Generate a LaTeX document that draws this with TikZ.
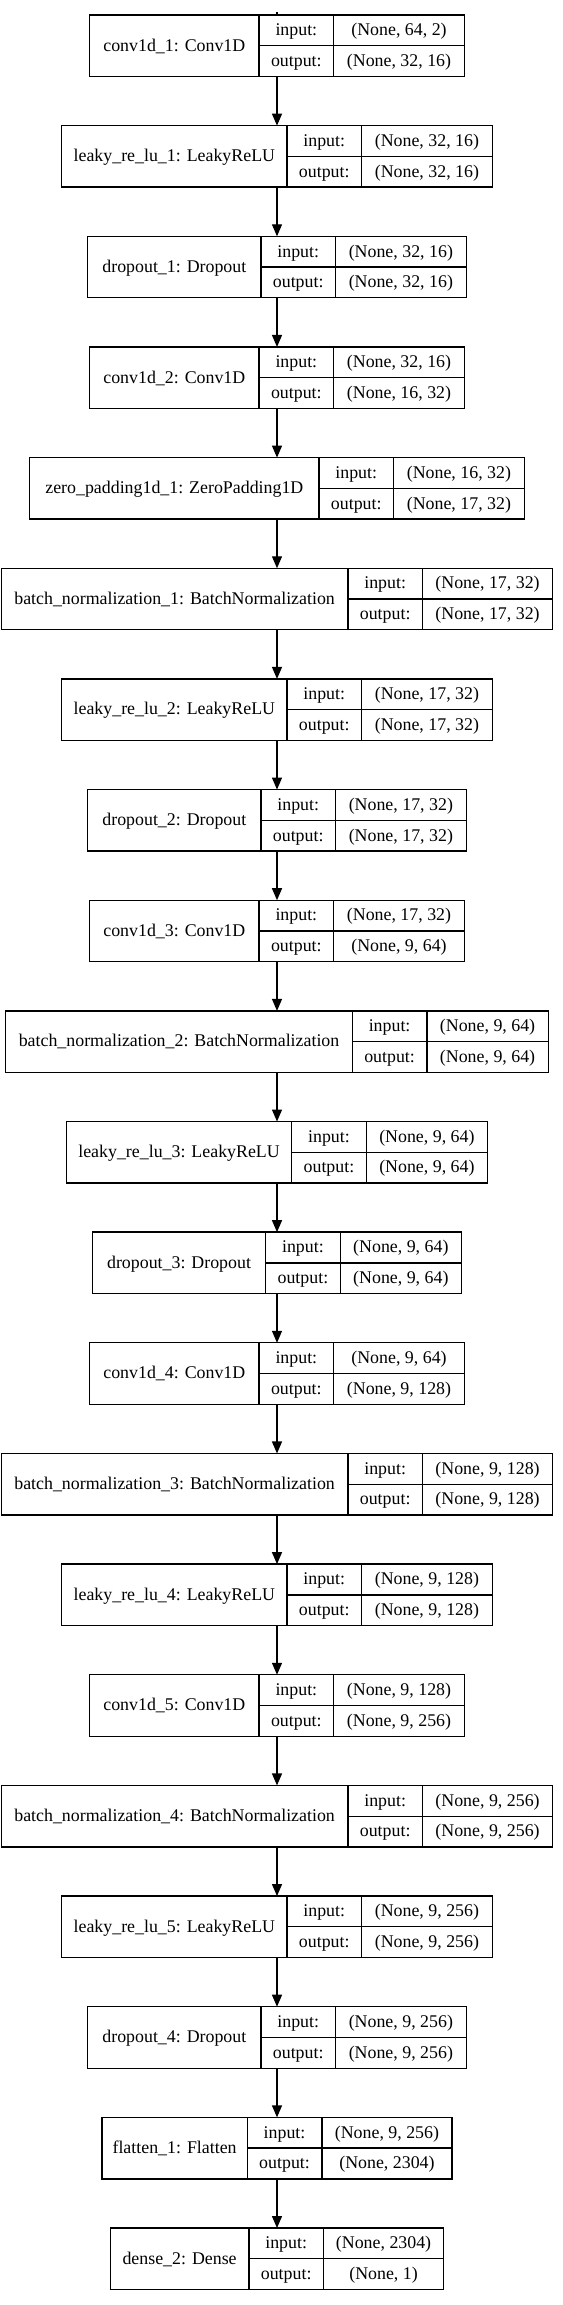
\documentclass[tikz,border=0pt]{standalone}
\usepackage{fontspec}
\setmainfont{Liberation Serif}
\usepackage{tikz}
\usetikzlibrary{positioning,arrows.meta}

\tikzset{
  layerbox/.style={inner sep=0pt, outer sep=0pt, minimum height=46.125pt},
  field/.style={draw, line width=1pt, inner sep=0pt, outer sep=0pt, minimum height=23.0625pt,
    font=\fontsize{13.4pt}{15pt}\selectfont, text height=10pt, text depth=2pt},
  flow/.style={line width=1pt, -{Triangle[length=9pt,width=7.5pt]}}
}

% one keras layer: id, row, name width, value width, name, input, output
\newcommand{\layer}[7]{%
  \node[layerbox, minimum width={(#3+74.6+#4)*0.75pt}] (#1) at (277,45.75+#2*110.65) {};
  \node[field, minimum width={#3*0.75pt}, minimum height=46.125pt, anchor=west] (#1-name) at (#1.west) {#5};
  \node[field, minimum width=55.95pt, anchor=north west] (#1-in) at (#1-name.north east) {input:};
  \node[field, minimum width=55.95pt, below=0pt of #1-in] (#1-out) {output:};
  \node[field, minimum width={#4*0.75pt}, right=0pt of #1-in] (#1-inv) {#6};
  \node[field, minimum width={#4*0.75pt}, right=0pt of #1-out] (#1-outv) {#7};
}

\begin{document}
\begin{tikzpicture}[x=0.75pt,y=-0.75pt]
  \fill[white] (0,0) rectangle (563,2305);
  \useasboundingbox (0,0) rectangle (563,2305);

  \layer{conv1}{0}{169.4}{130.7}{conv1d\_1: Conv1D}{(None, 64, 2)}{(None, 32, 16)}
  \layer{leaky1}{1}{225.2}{130.7}{leaky\_re\_lu\_1: LeakyReLU}{(None, 32, 16)}{(None, 32, 16)}
  \layer{drop1}{2}{173.1}{130.7}{dropout\_1: Dropout}{(None, 32, 16)}{(None, 32, 16)}
  \layer{conv2}{3}{169.4}{130.7}{conv1d\_2: Conv1D}{(None, 32, 16)}{(None, 16, 32)}
  \layer{zpad}{4}{289.2}{130.7}{zero\_padding1d\_1: ZeroPadding1D}{(None, 16, 32)}{(None, 17, 32)}
  \layer{bn1}{5}{346.5}{130.2}{batch\_normalization\_1: BatchNormalization}{(None, 17, 32)}{(None, 17, 32)}
  \layer{leaky2}{6}{225.2}{130.7}{leaky\_re\_lu\_2: LeakyReLU}{(None, 17, 32)}{(None, 17, 32)}
  \layer{drop2}{7}{173.1}{130.7}{dropout\_2: Dropout}{(None, 17, 32)}{(None, 17, 32)}
  \layer{conv3}{8}{169.4}{130.7}{conv1d\_3: Conv1D}{(None, 17, 32)}{(None, 9, 64)}
  \layer{bn2}{9}{346.5}{121.3}{batch\_normalization\_2: BatchNormalization}{(None, 9, 64)}{(None, 9, 64)}
  \layer{leaky3}{10}{225.2}{121.3}{leaky\_re\_lu\_3: LeakyReLU}{(None, 9, 64)}{(None, 9, 64)}
  \layer{drop3}{11}{173.1}{121.3}{dropout\_3: Dropout}{(None, 9, 64)}{(None, 9, 64)}
  \layer{conv4}{12}{169.4}{130.7}{conv1d\_4: Conv1D}{(None, 9, 64)}{(None, 9, 128)}
  \layer{bn3}{13}{346.5}{130.2}{batch\_normalization\_3: BatchNormalization}{(None, 9, 128)}{(None, 9, 128)}
  \layer{leaky4}{14}{225.2}{130.7}{leaky\_re\_lu\_4: LeakyReLU}{(None, 9, 128)}{(None, 9, 128)}
  \layer{conv5}{15}{169.4}{130.7}{conv1d\_5: Conv1D}{(None, 9, 128)}{(None, 9, 256)}
  \layer{bn4}{16}{346.5}{130.2}{batch\_normalization\_4: BatchNormalization}{(None, 9, 256)}{(None, 9, 256)}
  \layer{leaky5}{17}{225.2}{130.7}{leaky\_re\_lu\_5: LeakyReLU}{(None, 9, 256)}{(None, 9, 256)}
  \layer{drop4}{18}{173.1}{130.7}{dropout\_4: Dropout}{(None, 9, 256)}{(None, 9, 256)}
  \layer{flat}{19}{145.3}{130.2}{flatten\_1: Flatten}{(None, 9, 256)}{(None, 2304)}
  \layer{dense}{20}{138.5}{120.2}{dense\_2: Dense}{(None, 2304)}{(None, 1)}

  % edges
  \coordinate (entry) at (277,12.5);
  \draw[line width=1pt] (entry) -- (conv1.north);
  \foreach \a/\b in {conv1/leaky1, leaky1/drop1, drop1/conv2, conv2/zpad, zpad/bn1,
      bn1/leaky2, leaky2/drop2, drop2/conv3, conv3/bn2, bn2/leaky3, leaky3/drop3,
      drop3/conv4, conv4/bn3, bn3/leaky4, leaky4/conv5, conv5/bn4, bn4/leaky5,
      leaky5/drop4, drop4/flat, flat/dense}
    \draw[flow] (\a.south) -- (\b.north);
\end{tikzpicture}
\end{document}
